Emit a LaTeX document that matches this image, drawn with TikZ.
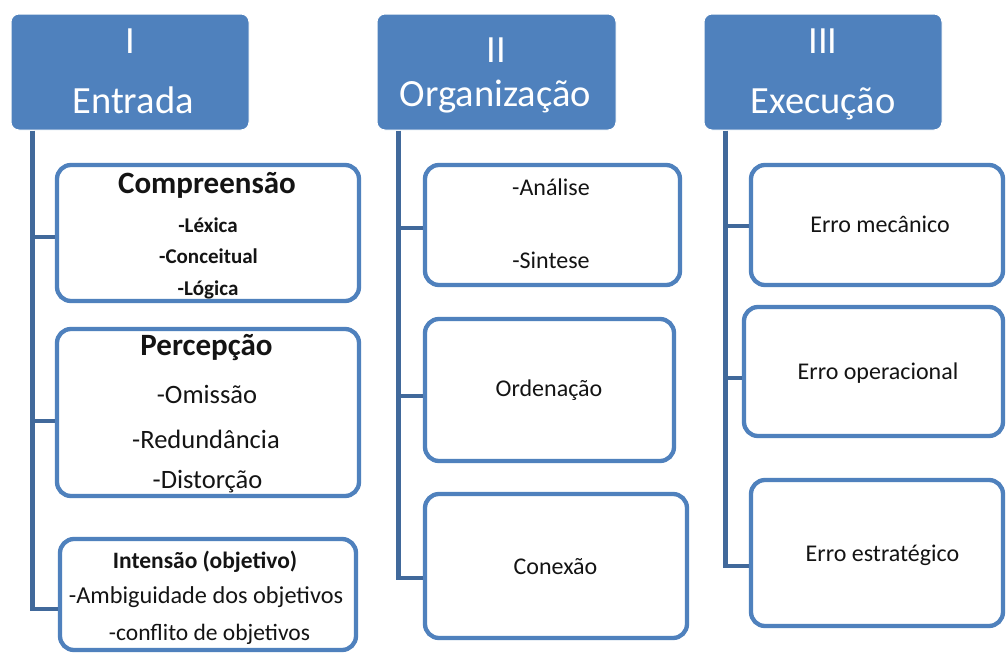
\documentclass[tikz,border=0pt]{standalone}
\usepackage{fontspec}
\setmainfont{Carlito}
\definecolor{hdr}{HTML}{4F81BD}
\definecolor{bord}{HTML}{4F81BD}
\definecolor{connc}{HTML}{41699B}
\definecolor{ink}{HTML}{141414}
\newcommand{\fs}[1]{\fontsize{#1}{#1}\selectfont}
\begin{document}
\begin{tikzpicture}[x=1pt,y=-1pt,
  hdrbox/.style={rectangle, rounded corners=8pt, fill=hdr, draw=white, line width=1pt, inner sep=0},
  itembox/.style={rectangle, rounded corners=14pt, fill=white, draw=bord, line width=4.3pt, inner sep=0},
  connline/.style={draw=connc, line width=4.8pt},
  txt/.style={anchor=base, inner sep=0, text=ink},
  htxt/.style={anchor=base, inner sep=0, text=white, font=\fs{38.5}}]
\useasboundingbox (0,0) rectangle (1007,653);
\fill[white] (0,0) rectangle (1007,653);

% headers
\node[hdrbox, minimum width=238pt, minimum height=116pt] (hI) at (130,72) {};
\node[hdrbox, minimum width=239pt, minimum height=116pt] (hII) at (496.5,72) {};
\node[hdrbox, minimum width=238pt, minimum height=116pt] (hIII) at (823,72) {};

% trunk start points
\coordinate (tI) at ([xshift=22pt]hI.south west);
\coordinate (tII) at ([xshift=22pt]hII.south west);
\coordinate (tIII) at ([xshift=22pt]hIII.south west);

% boxes
\node[itembox, minimum width=302pt, minimum height=136pt] (c1) at (208,233) {};
\node[itembox, minimum width=302pt, minimum height=167pt] (c2) at (208,412.5) {};
\node[itembox, minimum width=296pt, minimum height=111pt] (c3) at (208,594.5) {};
\node[itembox, minimum width=255pt, minimum height=120pt] (o1) at (552.5,225) {};
\node[itembox, minimum width=249pt, minimum height=142pt] (o2) at (549.5,390) {};
\node[itembox, minimum width=262pt, minimum height=144pt] (o3) at (556,566) {};
\node[itembox, minimum width=252pt, minimum height=120pt] (e1) at (877,225) {};
\node[itembox, minimum width=259pt, minimum height=129pt] (e2) at (873.5,371.5) {};
\node[itembox, minimum width=252pt, minimum height=146pt] (e3) at (877,553) {};

% junctions
\coordinate (j1) at ([yshift=-4pt]c1.west);
\coordinate (j2) at ([yshift=-8.5pt]c2.west);
\coordinate (j3) at ([yshift=-14.5pt]c3.west);
\coordinate (k1) at ([yshift=-3pt]o1.west);
\coordinate (k2) at ([yshift=-6pt]o2.west);
\coordinate (k3) at ([yshift=-12pt]o3.west);
\coordinate (m1) at ([yshift=-1pt]e1.west);
\coordinate (m2) at ([yshift=-6.5pt]e2.west);
\coordinate (m3) at ([yshift=-13pt]e3.west);

% connectors
\draw[connline] (tI) |- (j3);
\draw[connline] (tI |- j1) -- (j1);
\draw[connline] (tI |- j2) -- (j2);
\draw[connline] (tII) |- (k3);
\draw[connline] (tII |- k1) -- (k1);
\draw[connline] (tII |- k2) -- (k2);
\draw[connline] (tIII) |- (m3);
\draw[connline] (tIII |- m1) -- (m1);
\draw[connline] (tIII |- m2) -- (m2);

% header texts
\node[htxt] (hIa) at (130,53) {I};
\node[htxt] (hIb) at (133,113) {Entrada};
\node[htxt] (hIIa) at (496.5,62) {II};
\node[htxt] (hIIb) at (495.5,106) {Organização};
\node[htxt] (hIIIa) at (823,53) {III};
\node[htxt] (hIIIb) at (823,113) {Execução};

% column I texts
\node[txt, font=\fs{31}\bfseries] (c1t) at (207,193) {Compreensão};
\node[txt, font=\fs{21}\bfseries] (c1a) at (208,232) {-Léxica};
\node[txt, font=\fs{21}\bfseries] (c1b) at (208.5,263) {-Conceitual};
\node[txt, font=\fs{21}\bfseries] (c1c) at (208,295) {-Lógica};
\node[txt, font=\fs{31}\bfseries] (c2t) at (206.5,355) {Percepção};
\node[txt, font=\fs{26.5}] (c2a) at (207,403) {-Omissão};
\node[txt, font=\fs{26.5}] (c2b) at (206,448) {-Redundância};
\node[txt, font=\fs{26.5}] (c2c) at (207.5,488) {-Distorção};
\node[txt, font=\fs{23.5}] (c3t) at (205,568) {\textbf{Intensão (objetivo}\textbf{)}};
\node[txt, font=\fs{24.3}] (c3a) at (206,603) {-Ambiguidade dos objetivos};
\node[txt, font=\fs{23.5}] (c3b) at (209.5,640) {-conflito de objetivos};

% column II texts
\node[txt, font=\fs{24}] (o1a) at (551,195) {-Análise};
\node[txt, font=\fs{24}] (o1b) at (551,268) {-Sintese};
\node[txt, font=\fs{24}] (o2t) at (549,396) {Ordenação};
\node[txt, font=\fs{24}] (o3t) at (555.5,574) {Conexão};

% column III texts
\node[txt, font=\fs{24}] (e1t) at (880,232) {Erro mecânico};
\node[txt, font=\fs{24}] (e2t) at (878,379) {Erro operacional};
\node[txt, font=\fs{24}] (e3t) at (882.5,561) {Erro estratégico};
\end{tikzpicture}
\end{document}
